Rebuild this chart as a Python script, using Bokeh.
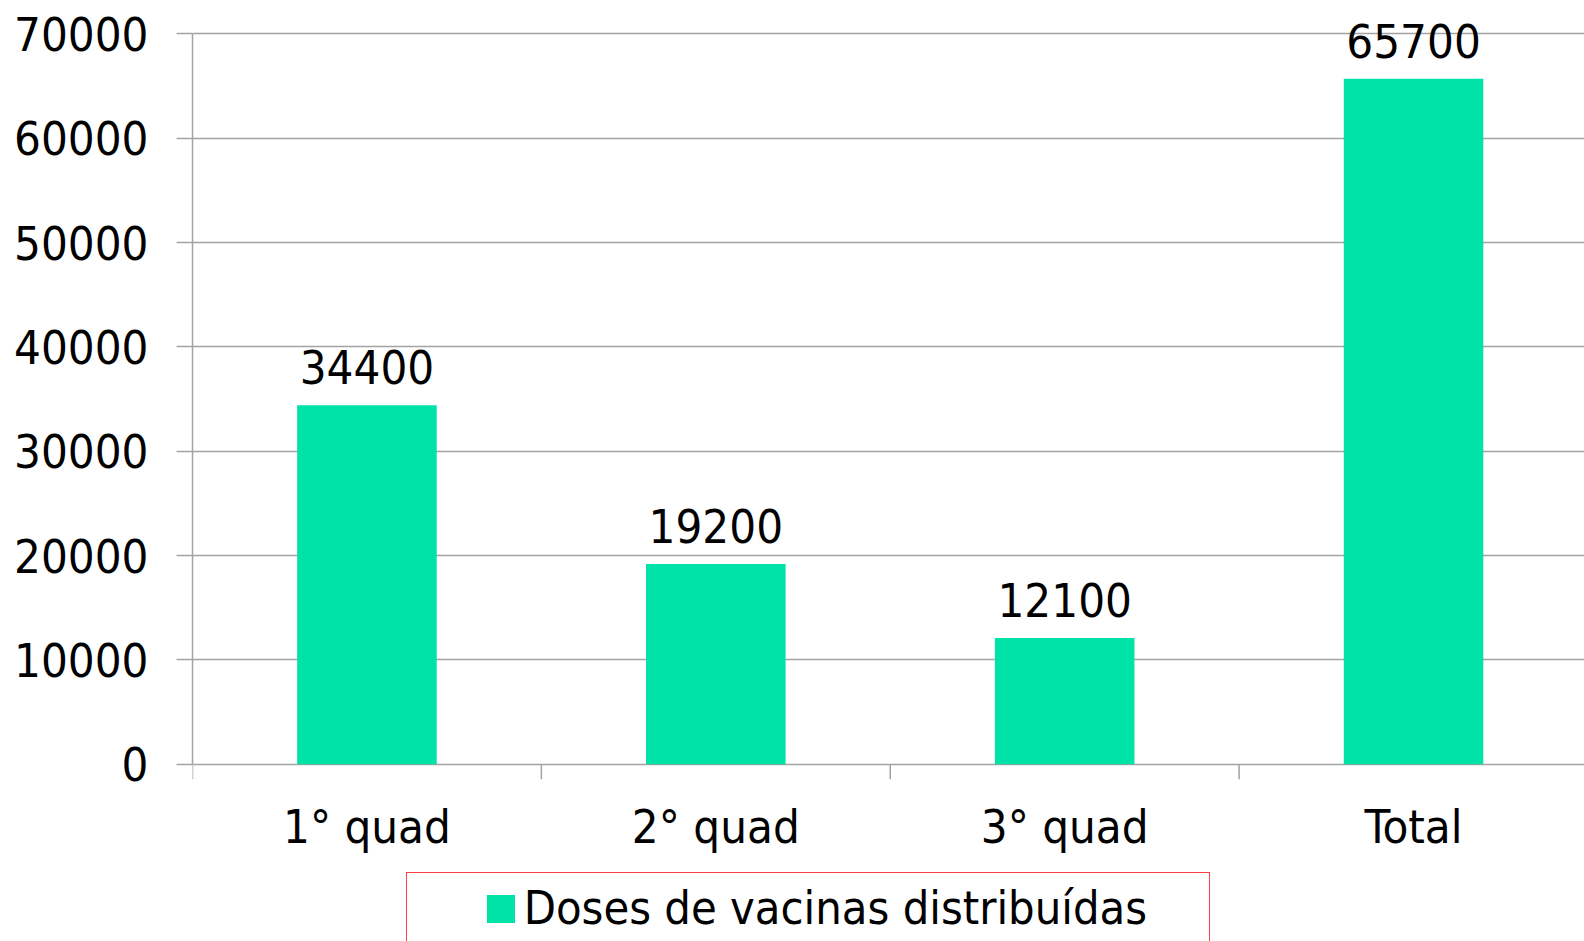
import math
from bokeh.plotting import figure
from bokeh.models import (ColumnDataSource, FixedTicker, Range1d,
                          LabelSet, Legend, LegendItem)
from bokeh.core.properties import value
from bokeh.embed import file_html
from bokeh.resources import INLINE

categories = ["1° quad", "2° quad", "3° quad", "Total"]
doses = [34400, 19200, 12100, 65700]
y_ticks = [0, 10000, 20000, 30000, 40000, 50000, 60000, 70000]
series_name = "Doses de vacinas distribuídas"

FONT = "DejaVu Sans Condensed"
FS = "47px"
BAR = "#00E3A8"
GRID = "#A3A3A3"

xs = [i + 0.5 for i in range(len(categories))]
bounds = list(range(len(categories) + 1))
src = ColumnDataSource(dict(x=xs, top=doses, label=[str(v) for v in doses],
                            base=[0] * len(categories), cat=categories))

p = figure(width=1584, height=941, output_backend="svg", toolbar_location=None,
           x_range=Range1d(0, 3.99), y_range=Range1d(-16994, 73201),
           x_axis_type=None, min_border_left=192, min_border_right=0,
           min_border_top=0, min_border_bottom=0)
p.outline_line_color = None
p.xgrid.visible = False

bars = p.vbar(x="x", top="top", width=0.4, source=src, color=BAR, line_color=None)
ghost = p.vbar(x=[], top=[], width=0.4, fill_alpha=0, line_alpha=0)

# y axis
p.yaxis.ticker = FixedTicker(ticks=y_ticks, minor_ticks=[])
p.yaxis.bounds = (0, 70000)
p.yaxis.axis_line_color = GRID
p.yaxis.axis_line_width = 1.5
p.yaxis.major_tick_line_color = GRID
p.yaxis.major_tick_line_width = 1.5
p.yaxis.major_tick_out = 16
p.yaxis.major_tick_in = 0
p.yaxis.minor_tick_line_color = None
p.yaxis.major_label_standoff = 28
p.yaxis.major_label_text_font = FONT
p.yaxis.major_label_text_font_size = FS
p.yaxis.major_label_text_color = "black"
p.yaxis.formatter.use_scientific = False
p.ygrid.ticker = FixedTicker(ticks=y_ticks)
p.ygrid.grid_line_color = GRID
p.ygrid.grid_line_width = 1.5

# category-axis ticks (between categories) and category labels
p.ray(x=bounds, y=[0] * len(bounds), length=15, length_units="screen",
      angle=-math.pi / 2, line_color=GRID, line_width=1.5)
cat_labels = LabelSet(x="x", y="base", text="cat", source=src, text_align="center",
                      text_baseline="alphabetic", y_offset=-79, text_font=value(FONT),
                      text_font_size=FS, text_color="black")
p.add_layout(cat_labels)

labels = LabelSet(x="x", y="top", text="label", source=src, text_align="center",
                  text_baseline="alphabetic", y_offset=21, text_font=value(FONT),
                  text_font_size=FS, text_color="black")
p.add_layout(labels)

legend = Legend(items=[LegendItem(label="\u00a0\u00a0", renderers=[ghost]),
                       LegendItem(label=series_name, renderers=[bars]),
                       LegendItem(label="\u00a0", renderers=[ghost])],
                orientation="horizontal",
                location=(214, -3), padding=8, margin=0, spacing=-10,
                glyph_width=35, glyph_height=35, label_standoff=6, label_width=10,
                label_text_font=FONT, label_text_font_size="46.6px", label_text_color="black",
                border_line_color="#FF4040", border_line_width=1.5, border_line_alpha=1.0,
                background_fill_alpha=0)
p.add_layout(legend, "center")

open("out.html", "w").write(file_html(p, INLINE))
